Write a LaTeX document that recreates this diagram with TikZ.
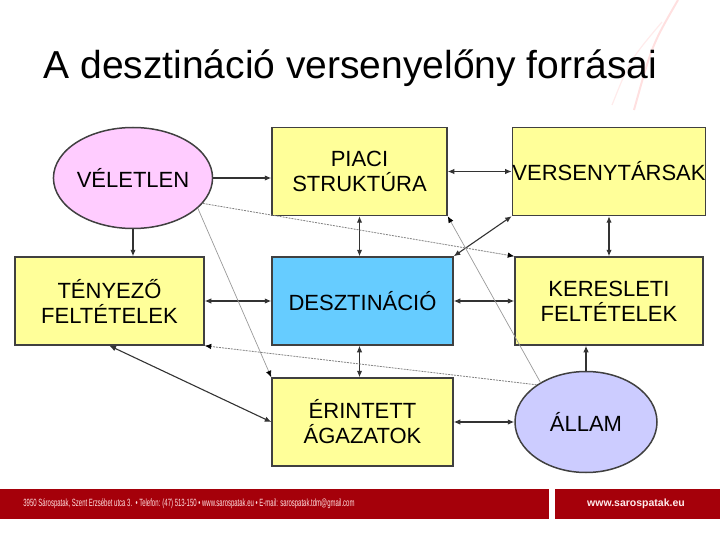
\documentclass[tikz,border=0pt]{standalone}
\usepackage{fontspec}
\setmainfont{Liberation Sans}
\usetikzlibrary{arrows.meta,shapes.geometric}
\definecolor{sarga}{HTML}{FFFF99}
\definecolor{rozsa}{HTML}{FFCCFF}
\definecolor{kek}{HTML}{66CCFF}
\definecolor{lila}{HTML}{CCCCFF}
\definecolor{bordo}{HTML}{A5000A}
\tikzset{
    doboz/.style={draw=black!75, line width=1.5pt, fill=sarga, align=center,
        minimum width=181pt, minimum height=88pt, inner sep=0pt,
        font=\fontsize{22}{25}\selectfont},
    tojas/.style={doboz, ellipse, minimum width=142pt, minimum height=101pt},
    nyil/.style={line width=1.1pt, black!80, -{Latex[length=6.5pt,width=5.5pt]}},
    kettos/.style={nyil, {Latex[length=6.5pt,width=5.5pt]}-{Latex[length=6.5pt,width=5.5pt]}},
    szaggatott/.style={line width=0.8pt, gray, dash pattern=on 2pt off 1pt,
        -{Latex[length=6.5pt,width=5.5pt,black]}},
    vekony/.style={line width=0.7pt, gray!80, -{Latex[length=6.5pt,width=5.5pt,black]}},
}
\begin{document}
\begin{tikzpicture}[x=1pt,y=-1pt]
        \useasboundingbox (0,0) rectangle (720,540);

        % hatter diszites
        \draw[red!12, line width=2pt] (678,0) .. controls (652,45) .. (634,110);
        \draw[red!8, line width=1.2pt] (662,22) .. controls (630,60) .. (612,105);

        \node[anchor=base west, font=\fontsize{39}{39}\selectfont] at (40,79) (cim) {A desztináció versenyelőny forrásai};

        \node[tojas, fill=rozsa] at (133,178) (veletlen) {VÉLETLEN};
        \node[doboz, minimum width=175pt] at (359.5,171.5) (piaci) {PIACI\\STRUKTÚRA};
        \node[doboz, minimum width=188pt] at (609,171.5) (verseny) {VERSENYTÁRSAK};
        \node[doboz, minimum width=189pt] at (109.5,301) (tenyezo) {TÉNYEZŐ\\FELTÉTELEK};
        \node[doboz, fill=kek] at (362.5,301) (deszt) {DESZTINÁCIÓ};
        \node[doboz, minimum width=188pt] at (609,301) (kereslet) {KERESLETI\\FELTÉTELEK};
        \node[doboz] at (362.5,422) (erintett) {ÉRINTETT\\ÁGAZATOK};
        \node[tojas, fill=lila] at (586,422) (allam) {ÁLLAM};

        \draw[nyil] (veletlen.east) -- (veletlen.east -| piaci.west);
        \draw[nyil] (veletlen.south) -- (veletlen.south |- tenyezo.north);
        \draw[kettos] (piaci.east) -- (verseny.west);
        \draw[kettos] (piaci.south) -- (piaci.south |- deszt.north);
        \draw[kettos] (verseny.south) -- (kereslet.north);
        \draw[kettos] (verseny.south west) -- (deszt.north east);
        \draw[kettos] (tenyezo.east) -- (deszt.west);
        \draw[kettos] (deszt.east) -- (kereslet.west);
        \draw[kettos] (piaci.south |- deszt.south) -- (piaci.south |- erintett.north);
        \draw[nyil] (allam.north) -- (allam.north |- kereslet.south);
        \draw[kettos] (allam.west) -- (erintett.east);
        \draw[kettos] (tenyezo.south) -- (erintett.west);

        \draw[szaggatott] (veletlen.-20) -- (kereslet.north west);
        \draw[vekony] (veletlen.-25) -- (erintett.north west);
        \draw[vekony] (allam.139) -- (piaci.south east);
        \draw[szaggatott] (allam.143) -- (tenyezo.south east);

        % lablec
        \fill[bordo] (0,489) rectangle (549,519);
        \fill[bordo] (555,489) rectangle (720,519);
        \node[text=white!88!red, font=\fontsize{10.5}{11}\selectfont] at (189,504) (cim2)
            {\scalebox{0.57}[1]{3950 Sárospatak, Szent Erzsébet utca 3.\ \ • Telefon: (47) 513-150 • www.sarospatak.eu • E-mail: sarospatak.tdm@gmail.com}};
        \node[text=white!92!red, font=\bfseries\fontsize{10.5}{11}\selectfont] at (636,504) (web) {www.sarospatak.eu};
\end{tikzpicture}
\end{document}
